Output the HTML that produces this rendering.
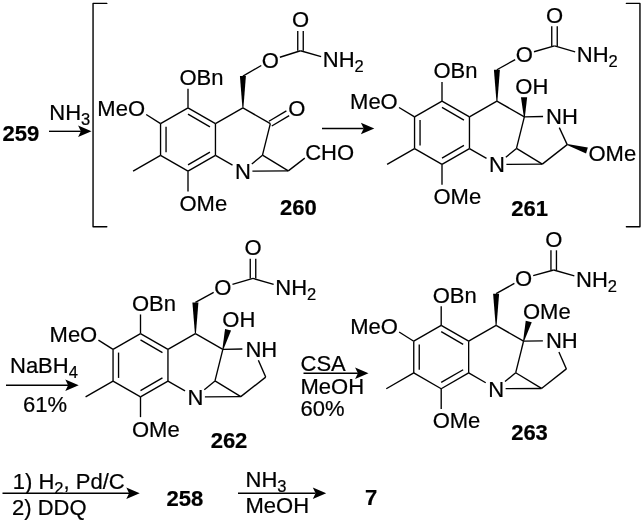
<!DOCTYPE html>
<html><head><meta charset="utf-8"><title>Scheme</title>
<style>
html,body{margin:0;padding:0;background:#fff;}
svg{display:block;will-change:transform;font-family:"Liberation Sans",sans-serif;fill:#000;}
text{stroke:#000;stroke-width:0.22px;stroke-linejoin:round;}
</style></head><body>
<svg width="644" height="522" viewBox="0 0 644 522">
<rect width="644" height="522" fill="#fff"/>
<line x1="188.00" y1="107.80" x2="215.45" y2="123.65" stroke="#000" stroke-width="1.35" stroke-linecap="butt"/>
<line x1="215.45" y1="123.65" x2="215.45" y2="155.35" stroke="#000" stroke-width="1.35" stroke-linecap="butt"/>
<line x1="215.45" y1="155.35" x2="188.00" y2="171.20" stroke="#000" stroke-width="1.35" stroke-linecap="butt"/>
<line x1="188.00" y1="171.20" x2="160.55" y2="155.35" stroke="#000" stroke-width="1.35" stroke-linecap="butt"/>
<line x1="160.55" y1="155.35" x2="160.55" y2="123.65" stroke="#000" stroke-width="1.35" stroke-linecap="butt"/>
<line x1="160.55" y1="123.65" x2="188.00" y2="107.80" stroke="#000" stroke-width="1.35" stroke-linecap="butt"/>
<line x1="188.00" y1="114.15" x2="209.95" y2="126.83" stroke="#000" stroke-width="1.35" stroke-linecap="butt"/>
<line x1="209.95" y1="152.17" x2="188.00" y2="164.85" stroke="#000" stroke-width="1.35" stroke-linecap="butt"/>
<line x1="166.05" y1="152.17" x2="166.05" y2="126.83" stroke="#000" stroke-width="1.35" stroke-linecap="butt"/>
<line x1="188.00" y1="107.80" x2="188.00" y2="88.70" stroke="#000" stroke-width="1.35" stroke-linecap="butt"/>
<text x="179.44" y="85.08" font-size="22.0" text-anchor="start">OBn</text>
<line x1="160.55" y1="123.65" x2="146.19" y2="114.49" stroke="#000" stroke-width="1.35" stroke-linecap="butt"/>
<text x="145.05" y="116.18" font-size="22.0" text-anchor="end">MeO</text>
<line x1="160.55" y1="155.35" x2="133.09" y2="171.20" stroke="#000" stroke-width="1.35" stroke-linecap="butt"/>
<line x1="188.00" y1="171.20" x2="188.00" y2="191.40" stroke="#000" stroke-width="1.35" stroke-linecap="butt"/>
<text x="179.44" y="210.78" font-size="22.0" text-anchor="start">OMe</text>
<line x1="215.45" y1="123.65" x2="242.91" y2="107.80" stroke="#000" stroke-width="1.35" stroke-linecap="butt"/>
<line x1="242.91" y1="107.80" x2="270.36" y2="123.65" stroke="#000" stroke-width="1.35" stroke-linecap="butt"/>
<line x1="270.36" y1="123.65" x2="262.50" y2="155.20" stroke="#000" stroke-width="1.35" stroke-linecap="butt"/>
<line x1="215.45" y1="155.35" x2="232.51" y2="165.20" stroke="#000" stroke-width="1.35" stroke-linecap="butt"/>
<line x1="251.81" y1="163.93" x2="262.50" y2="155.20" stroke="#000" stroke-width="1.35" stroke-linecap="butt"/>
<line x1="252.41" y1="171.14" x2="288.30" y2="170.90" stroke="#000" stroke-width="1.35" stroke-linecap="butt"/>
<line x1="262.50" y1="155.20" x2="288.30" y2="170.90" stroke="#000" stroke-width="1.35" stroke-linecap="butt"/>
<text x="242.91" y="179.08" font-size="22.0" text-anchor="middle">N</text>
<polygon points="242.41,107.80 243.41,107.80 245.91,76.10 239.91,76.10" fill="#000"/>
<line x1="242.91" y1="76.10" x2="261.27" y2="65.50" stroke="#000" stroke-width="1.35" stroke-linecap="butt"/>
<text x="270.36" y="68.13" font-size="22.0" text-anchor="middle">O</text>
<line x1="279.90" y1="57.24" x2="300.50" y2="50.75" stroke="#000" stroke-width="1.35" stroke-linecap="butt"/>
<line x1="303.25" y1="50.75" x2="303.25" y2="31.05" stroke="#000" stroke-width="1.35" stroke-linecap="butt"/>
<line x1="297.75" y1="50.75" x2="297.75" y2="31.05" stroke="#000" stroke-width="1.35" stroke-linecap="butt"/>
<text x="300.50" y="27.43" font-size="22.0" text-anchor="middle">O</text>
<line x1="300.50" y1="50.75" x2="321.14" y2="56.65" stroke="#000" stroke-width="1.35" stroke-linecap="butt"/>
<text x="322.81" y="67.28" font-size="22.0" text-anchor="start">NH<tspan font-size="16.50" dy="5.06">2</tspan></text>
<line x1="271.77" y1="126.01" x2="289.20" y2="115.63" stroke="#000" stroke-width="1.35" stroke-linecap="butt"/>
<line x1="268.95" y1="121.29" x2="286.38" y2="110.91" stroke="#000" stroke-width="1.35" stroke-linecap="butt"/>
<text x="296.81" y="115.78" font-size="22.0" text-anchor="middle">O</text>
<line x1="288.30" y1="170.90" x2="304.80" y2="158.10" stroke="#000" stroke-width="1.35" stroke-linecap="butt"/>
<text x="305.20" y="159.60" font-size="22.0" text-anchor="start">CHO</text>
<line x1="442.00" y1="101.05" x2="469.45" y2="116.90" stroke="#000" stroke-width="1.35" stroke-linecap="butt"/>
<line x1="469.45" y1="116.90" x2="469.45" y2="148.60" stroke="#000" stroke-width="1.35" stroke-linecap="butt"/>
<line x1="469.45" y1="148.60" x2="442.00" y2="164.45" stroke="#000" stroke-width="1.35" stroke-linecap="butt"/>
<line x1="442.00" y1="164.45" x2="414.55" y2="148.60" stroke="#000" stroke-width="1.35" stroke-linecap="butt"/>
<line x1="414.55" y1="148.60" x2="414.55" y2="116.90" stroke="#000" stroke-width="1.35" stroke-linecap="butt"/>
<line x1="414.55" y1="116.90" x2="442.00" y2="101.05" stroke="#000" stroke-width="1.35" stroke-linecap="butt"/>
<line x1="442.00" y1="107.40" x2="463.95" y2="120.08" stroke="#000" stroke-width="1.35" stroke-linecap="butt"/>
<line x1="463.95" y1="145.42" x2="442.00" y2="158.10" stroke="#000" stroke-width="1.35" stroke-linecap="butt"/>
<line x1="420.05" y1="145.42" x2="420.05" y2="120.08" stroke="#000" stroke-width="1.35" stroke-linecap="butt"/>
<line x1="442.00" y1="101.05" x2="442.00" y2="81.95" stroke="#000" stroke-width="1.35" stroke-linecap="butt"/>
<text x="433.44" y="78.33" font-size="22.0" text-anchor="start">OBn</text>
<line x1="414.55" y1="116.90" x2="399.03" y2="107.51" stroke="#000" stroke-width="1.35" stroke-linecap="butt"/>
<text x="397.75" y="109.43" font-size="22.0" text-anchor="end">MeO</text>
<line x1="414.55" y1="148.60" x2="387.09" y2="164.45" stroke="#000" stroke-width="1.35" stroke-linecap="butt"/>
<line x1="442.00" y1="164.45" x2="442.00" y2="184.65" stroke="#000" stroke-width="1.35" stroke-linecap="butt"/>
<text x="433.44" y="204.03" font-size="22.0" text-anchor="start">OMe</text>
<line x1="469.45" y1="116.90" x2="496.91" y2="101.05" stroke="#000" stroke-width="1.35" stroke-linecap="butt"/>
<line x1="496.91" y1="101.05" x2="524.36" y2="116.90" stroke="#000" stroke-width="1.35" stroke-linecap="butt"/>
<line x1="524.36" y1="116.90" x2="516.50" y2="148.45" stroke="#000" stroke-width="1.35" stroke-linecap="butt"/>
<line x1="469.45" y1="148.60" x2="486.51" y2="158.45" stroke="#000" stroke-width="1.35" stroke-linecap="butt"/>
<line x1="505.81" y1="157.18" x2="516.50" y2="148.45" stroke="#000" stroke-width="1.35" stroke-linecap="butt"/>
<line x1="506.41" y1="164.39" x2="542.30" y2="164.15" stroke="#000" stroke-width="1.35" stroke-linecap="butt"/>
<line x1="516.50" y1="148.45" x2="542.30" y2="164.15" stroke="#000" stroke-width="1.35" stroke-linecap="butt"/>
<text x="496.91" y="172.33" font-size="22.0" text-anchor="middle">N</text>
<polygon points="496.41,101.05 497.41,101.05 499.91,69.75 493.91,69.75" fill="#000"/>
<line x1="496.91" y1="69.75" x2="515.18" y2="59.60" stroke="#000" stroke-width="1.35" stroke-linecap="butt"/>
<text x="524.36" y="62.38" font-size="22.0" text-anchor="middle">O</text>
<line x1="533.98" y1="51.76" x2="554.50" y2="45.90" stroke="#000" stroke-width="1.35" stroke-linecap="butt"/>
<line x1="557.25" y1="45.90" x2="557.25" y2="26.20" stroke="#000" stroke-width="1.35" stroke-linecap="butt"/>
<line x1="551.75" y1="45.90" x2="551.75" y2="26.20" stroke="#000" stroke-width="1.35" stroke-linecap="butt"/>
<text x="554.50" y="22.58" font-size="22.0" text-anchor="middle">O</text>
<line x1="554.50" y1="45.90" x2="575.14" y2="51.80" stroke="#000" stroke-width="1.35" stroke-linecap="butt"/>
<text x="576.81" y="62.43" font-size="22.0" text-anchor="start">NH<tspan font-size="16.50" dy="5.06">2</tspan></text>
<line x1="524.36" y1="116.90" x2="543.06" y2="116.52" stroke="#000" stroke-width="1.35" stroke-linecap="butt"/>
<text x="546.12" y="124.18" font-size="22.0" text-anchor="start">NH</text>
<line x1="559.32" y1="127.64" x2="567.20" y2="144.60" stroke="#000" stroke-width="1.35" stroke-linecap="butt"/>
<line x1="567.20" y1="144.60" x2="542.30" y2="164.15" stroke="#000" stroke-width="1.35" stroke-linecap="butt"/>
<polygon points="523.86,116.91 524.86,116.89 527.14,97.25 520.94,97.35" fill="#000"/>
<text x="515.30" y="93.68" font-size="22.0" text-anchor="start">OH</text>
<polygon points="567.34,144.12 567.06,145.08 586.05,153.40 587.81,147.45" fill="#000"/>
<text x="588.44" y="161.28" font-size="22.0" text-anchor="start">OMe</text>
<line x1="140.50" y1="333.55" x2="167.95" y2="349.40" stroke="#000" stroke-width="1.35" stroke-linecap="butt"/>
<line x1="167.95" y1="349.40" x2="167.95" y2="381.10" stroke="#000" stroke-width="1.35" stroke-linecap="butt"/>
<line x1="167.95" y1="381.10" x2="140.50" y2="396.95" stroke="#000" stroke-width="1.35" stroke-linecap="butt"/>
<line x1="140.50" y1="396.95" x2="113.05" y2="381.10" stroke="#000" stroke-width="1.35" stroke-linecap="butt"/>
<line x1="113.05" y1="381.10" x2="113.05" y2="349.40" stroke="#000" stroke-width="1.35" stroke-linecap="butt"/>
<line x1="113.05" y1="349.40" x2="140.50" y2="333.55" stroke="#000" stroke-width="1.35" stroke-linecap="butt"/>
<line x1="140.50" y1="339.90" x2="162.45" y2="352.58" stroke="#000" stroke-width="1.35" stroke-linecap="butt"/>
<line x1="162.45" y1="377.92" x2="140.50" y2="390.60" stroke="#000" stroke-width="1.35" stroke-linecap="butt"/>
<line x1="118.55" y1="377.92" x2="118.55" y2="352.58" stroke="#000" stroke-width="1.35" stroke-linecap="butt"/>
<line x1="140.50" y1="333.55" x2="140.50" y2="314.45" stroke="#000" stroke-width="1.35" stroke-linecap="butt"/>
<text x="131.94" y="310.83" font-size="22.0" text-anchor="start">OBn</text>
<line x1="113.05" y1="349.40" x2="98.42" y2="340.18" stroke="#000" stroke-width="1.35" stroke-linecap="butt"/>
<text x="97.25" y="341.93" font-size="22.0" text-anchor="end">MeO</text>
<line x1="113.05" y1="381.10" x2="85.59" y2="396.95" stroke="#000" stroke-width="1.35" stroke-linecap="butt"/>
<line x1="140.50" y1="396.95" x2="140.50" y2="417.15" stroke="#000" stroke-width="1.35" stroke-linecap="butt"/>
<text x="131.94" y="436.53" font-size="22.0" text-anchor="start">OMe</text>
<line x1="167.95" y1="349.40" x2="195.41" y2="333.55" stroke="#000" stroke-width="1.35" stroke-linecap="butt"/>
<line x1="195.41" y1="333.55" x2="222.86" y2="349.40" stroke="#000" stroke-width="1.35" stroke-linecap="butt"/>
<line x1="222.86" y1="349.40" x2="215.00" y2="380.95" stroke="#000" stroke-width="1.35" stroke-linecap="butt"/>
<line x1="167.95" y1="381.10" x2="185.01" y2="390.95" stroke="#000" stroke-width="1.35" stroke-linecap="butt"/>
<line x1="204.31" y1="389.68" x2="215.00" y2="380.95" stroke="#000" stroke-width="1.35" stroke-linecap="butt"/>
<line x1="204.91" y1="396.89" x2="240.80" y2="396.65" stroke="#000" stroke-width="1.35" stroke-linecap="butt"/>
<line x1="215.00" y1="380.95" x2="240.80" y2="396.65" stroke="#000" stroke-width="1.35" stroke-linecap="butt"/>
<text x="195.41" y="404.83" font-size="22.0" text-anchor="middle">N</text>
<polygon points="194.91,333.55 195.91,333.55 198.41,302.45 192.41,302.45" fill="#000"/>
<line x1="195.41" y1="302.45" x2="213.68" y2="292.30" stroke="#000" stroke-width="1.35" stroke-linecap="butt"/>
<text x="222.86" y="295.08" font-size="22.0" text-anchor="middle">O</text>
<line x1="232.46" y1="284.40" x2="253.00" y2="278.40" stroke="#000" stroke-width="1.35" stroke-linecap="butt"/>
<line x1="255.75" y1="278.40" x2="255.75" y2="258.70" stroke="#000" stroke-width="1.35" stroke-linecap="butt"/>
<line x1="250.25" y1="278.40" x2="250.25" y2="258.70" stroke="#000" stroke-width="1.35" stroke-linecap="butt"/>
<text x="253.00" y="255.08" font-size="22.0" text-anchor="middle">O</text>
<line x1="253.00" y1="278.40" x2="273.64" y2="284.30" stroke="#000" stroke-width="1.35" stroke-linecap="butt"/>
<text x="275.31" y="294.93" font-size="22.0" text-anchor="start">NH<tspan font-size="16.50" dy="5.06">2</tspan></text>
<line x1="222.86" y1="349.40" x2="242.36" y2="349.02" stroke="#000" stroke-width="1.35" stroke-linecap="butt"/>
<text x="245.42" y="356.68" font-size="22.0" text-anchor="start">NH</text>
<line x1="258.36" y1="360.26" x2="265.70" y2="377.10" stroke="#000" stroke-width="1.35" stroke-linecap="butt"/>
<line x1="265.70" y1="377.10" x2="240.80" y2="396.65" stroke="#000" stroke-width="1.35" stroke-linecap="butt"/>
<polygon points="222.38,349.27 223.34,349.53 231.05,330.53 225.05,328.94" fill="#000"/>
<text x="222.30" y="326.98" font-size="22.0" text-anchor="start">OH</text>
<line x1="441.20" y1="325.35" x2="468.65" y2="341.20" stroke="#000" stroke-width="1.35" stroke-linecap="butt"/>
<line x1="468.65" y1="341.20" x2="468.65" y2="372.90" stroke="#000" stroke-width="1.35" stroke-linecap="butt"/>
<line x1="468.65" y1="372.90" x2="441.20" y2="388.75" stroke="#000" stroke-width="1.35" stroke-linecap="butt"/>
<line x1="441.20" y1="388.75" x2="413.75" y2="372.90" stroke="#000" stroke-width="1.35" stroke-linecap="butt"/>
<line x1="413.75" y1="372.90" x2="413.75" y2="341.20" stroke="#000" stroke-width="1.35" stroke-linecap="butt"/>
<line x1="413.75" y1="341.20" x2="441.20" y2="325.35" stroke="#000" stroke-width="1.35" stroke-linecap="butt"/>
<line x1="441.20" y1="331.70" x2="463.15" y2="344.38" stroke="#000" stroke-width="1.35" stroke-linecap="butt"/>
<line x1="463.15" y1="369.72" x2="441.20" y2="382.40" stroke="#000" stroke-width="1.35" stroke-linecap="butt"/>
<line x1="419.25" y1="369.72" x2="419.25" y2="344.38" stroke="#000" stroke-width="1.35" stroke-linecap="butt"/>
<line x1="441.20" y1="325.35" x2="441.20" y2="306.25" stroke="#000" stroke-width="1.35" stroke-linecap="butt"/>
<text x="432.64" y="302.63" font-size="22.0" text-anchor="start">OBn</text>
<line x1="413.75" y1="341.20" x2="399.12" y2="331.98" stroke="#000" stroke-width="1.35" stroke-linecap="butt"/>
<text x="397.95" y="333.73" font-size="22.0" text-anchor="end">MeO</text>
<line x1="413.75" y1="372.90" x2="386.29" y2="388.75" stroke="#000" stroke-width="1.35" stroke-linecap="butt"/>
<line x1="441.20" y1="388.75" x2="441.20" y2="408.95" stroke="#000" stroke-width="1.35" stroke-linecap="butt"/>
<text x="432.64" y="428.33" font-size="22.0" text-anchor="start">OMe</text>
<line x1="468.65" y1="341.20" x2="496.11" y2="325.35" stroke="#000" stroke-width="1.35" stroke-linecap="butt"/>
<line x1="496.11" y1="325.35" x2="523.56" y2="341.20" stroke="#000" stroke-width="1.35" stroke-linecap="butt"/>
<line x1="523.56" y1="341.20" x2="515.70" y2="372.75" stroke="#000" stroke-width="1.35" stroke-linecap="butt"/>
<line x1="468.65" y1="372.90" x2="485.71" y2="382.75" stroke="#000" stroke-width="1.35" stroke-linecap="butt"/>
<line x1="505.01" y1="381.48" x2="515.70" y2="372.75" stroke="#000" stroke-width="1.35" stroke-linecap="butt"/>
<line x1="505.61" y1="388.69" x2="541.50" y2="388.45" stroke="#000" stroke-width="1.35" stroke-linecap="butt"/>
<line x1="515.70" y1="372.75" x2="541.50" y2="388.45" stroke="#000" stroke-width="1.35" stroke-linecap="butt"/>
<text x="496.11" y="396.63" font-size="22.0" text-anchor="middle">N</text>
<polygon points="495.61,325.35 496.61,325.35 499.11,293.65 493.11,293.65" fill="#000"/>
<line x1="496.11" y1="293.65" x2="514.39" y2="283.42" stroke="#000" stroke-width="1.35" stroke-linecap="butt"/>
<text x="523.56" y="286.18" font-size="22.0" text-anchor="middle">O</text>
<line x1="533.20" y1="275.65" x2="553.70" y2="270.00" stroke="#000" stroke-width="1.35" stroke-linecap="butt"/>
<line x1="556.45" y1="270.00" x2="556.45" y2="250.30" stroke="#000" stroke-width="1.35" stroke-linecap="butt"/>
<line x1="550.95" y1="270.00" x2="550.95" y2="250.30" stroke="#000" stroke-width="1.35" stroke-linecap="butt"/>
<text x="553.70" y="246.68" font-size="22.0" text-anchor="middle">O</text>
<line x1="553.70" y1="270.00" x2="574.34" y2="275.90" stroke="#000" stroke-width="1.35" stroke-linecap="butt"/>
<text x="576.01" y="286.53" font-size="22.0" text-anchor="start">NH<tspan font-size="16.50" dy="5.06">2</tspan></text>
<line x1="523.56" y1="341.20" x2="542.86" y2="340.82" stroke="#000" stroke-width="1.35" stroke-linecap="butt"/>
<text x="545.92" y="348.48" font-size="22.0" text-anchor="start">NH</text>
<line x1="558.92" y1="352.03" x2="566.40" y2="368.90" stroke="#000" stroke-width="1.35" stroke-linecap="butt"/>
<line x1="566.40" y1="368.90" x2="541.50" y2="388.45" stroke="#000" stroke-width="1.35" stroke-linecap="butt"/>
<polygon points="523.08,341.07 524.04,341.33 531.75,322.33 525.75,320.74" fill="#000"/>
<text x="523.00" y="318.78" font-size="22.0" text-anchor="start">OMe</text>
<polyline points="106.8,3.4 93.05,3.4 93.05,226.8 106.8,226.8" fill="none" stroke="#000" stroke-width="1.4" stroke-linejoin="round" stroke-linecap="round"/>
<polyline points="626.4,3.4 639.95,3.4 639.95,226.8 626.4,226.8" fill="none" stroke="#000" stroke-width="1.4" stroke-linejoin="round" stroke-linecap="round"/>
<text x="2.60" y="140.50" font-size="22.0" text-anchor="start" font-weight="bold">259</text>
<text x="69.80" y="119.50" font-size="22.0" text-anchor="middle">NH<tspan font-size="16.50" dy="5.06">3</tspan></text>
<line x1="49.00" y1="131.30" x2="80.90" y2="131.30" stroke="#000" stroke-width="1.35" stroke-linecap="butt"/>
<polygon points="91.50,131.30 78.10,125.50 80.90,131.30 78.10,137.10" fill="#000"/>
<text x="298.40" y="215.00" font-size="22.0" text-anchor="middle" font-weight="bold">260</text>
<line x1="322.00" y1="128.50" x2="363.70" y2="128.50" stroke="#000" stroke-width="1.35" stroke-linecap="butt"/>
<polygon points="374.30,128.50 360.90,122.70 363.70,128.50 360.90,134.30" fill="#000"/>
<text x="529.70" y="215.50" font-size="22.0" text-anchor="middle" font-weight="bold">261</text>
<text x="10.00" y="372.50" font-size="22.0" text-anchor="start">NaBH<tspan font-size="16.50" dy="5.06">4</tspan></text>
<line x1="6.00" y1="385.20" x2="68.10" y2="385.20" stroke="#000" stroke-width="1.35" stroke-linecap="butt"/>
<polygon points="78.70,385.20 65.30,379.40 68.10,385.20 65.30,391.00" fill="#000"/>
<text x="45.00" y="411.80" font-size="22.0" text-anchor="middle">61%</text>
<text x="229.00" y="448.20" font-size="22.0" text-anchor="middle" font-weight="bold">262</text>
<text x="300.50" y="371.20" font-size="22.0" text-anchor="start">CSA</text>
<line x1="303.50" y1="373.20" x2="357.90" y2="373.20" stroke="#000" stroke-width="1.35" stroke-linecap="butt"/>
<polygon points="368.50,373.20 355.10,367.40 357.90,373.20 355.10,379.00" fill="#000"/>
<text x="300.50" y="393.70" font-size="22.0" text-anchor="start">MeOH</text>
<text x="300.50" y="415.80" font-size="22.0" text-anchor="start">60%</text>
<text x="529.50" y="440.00" font-size="22.0" text-anchor="middle" font-weight="bold">263</text>
<text x="12.80" y="488.60" font-size="22.0" text-anchor="start">1) H<tspan font-size="16.50" dy="5.06">2</tspan><tspan dy="-5.06">, Pd/C</tspan></text>
<line x1="2.50" y1="493.20" x2="129.10" y2="493.20" stroke="#000" stroke-width="1.35" stroke-linecap="butt"/>
<polygon points="139.70,493.20 126.30,487.40 129.10,493.20 126.30,499.00" fill="#000"/>
<text x="12.00" y="514.70" font-size="22.0" text-anchor="start">2) DDQ</text>
<text x="184.90" y="506.00" font-size="22.0" text-anchor="middle" font-weight="bold">258</text>
<text x="245.50" y="486.80" font-size="22.0" text-anchor="start">NH<tspan font-size="16.50" dy="5.06">3</tspan></text>
<line x1="238.00" y1="493.20" x2="315.60" y2="493.20" stroke="#000" stroke-width="1.35" stroke-linecap="butt"/>
<polygon points="326.20,493.20 312.80,487.40 315.60,493.20 312.80,499.00" fill="#000"/>
<text x="245.50" y="512.80" font-size="22.0" text-anchor="start">MeOH</text>
<text x="371.00" y="504.60" font-size="22.0" text-anchor="middle" font-weight="bold">7</text>
</svg>
</body></html>
